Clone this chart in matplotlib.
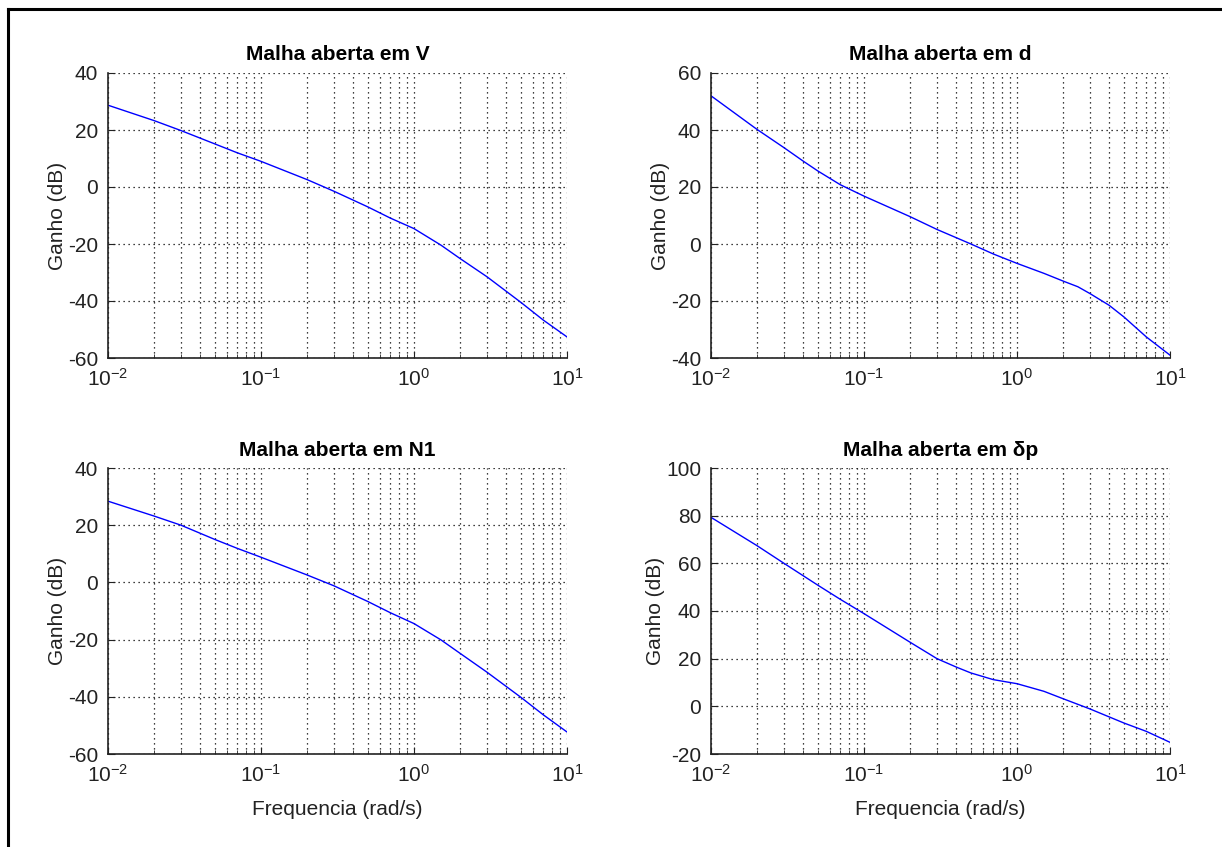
import numpy as np
import matplotlib.pyplot as plt
from matplotlib.lines import Line2D
from matplotlib.ticker import LogLocator, NullFormatter, FixedLocator

plt.rcParams['font.family'] = ['Liberation Sans', 'DejaVu Sans']
plt.rcParams['mathtext.fontset'] = 'custom'
plt.rcParams['mathtext.rm'] = 'Liberation Sans'
plt.rcParams['mathtext.it'] = 'Liberation Sans'
plt.rcParams['mathtext.default'] = 'regular'
plt.rcParams['axes.unicode_minus'] = False

# frequencias (rad/s)
freq = [0.01, 0.02, 0.03, 0.05, 0.07, 0.1, 0.2, 0.3, 0.5, 0.7,
        1.0, 1.5, 2.0, 3.0, 5.0, 7.0, 10.0]

ganho_V = [28.7, 23.3, 19.8, 15.1, 12.0, 9.0, 2.6, -1.5, -7.0, -10.9,
           -14.6, -20.4, -25.1, -31.5, -40.5, -46.7, -52.6]
ganho_N1 = [28.4, 23.2, 20.0, 15.0, 11.9, 8.8, 2.6, -1.2, -6.7, -10.6,
            -14.4, -20.1, -24.8, -31.4, -40.2, -46.3, -52.3]

freq_d = [0.01, 0.02, 0.03, 0.04, 0.05, 0.07, 0.1, 0.2, 0.3, 0.5, 0.7,
          1.0, 1.5, 2.0, 2.5, 3.0, 4.0, 5.0, 7.0, 10.0]
ganho_d = [52.0, 40.2, 33.8, 29.1, 25.6, 20.8, 16.8, 9.6, 5.1, 0.0, -3.5,
           -6.8, -10.3, -13.0, -15.0, -17.4, -21.5, -25.6, -32.6, -39.0]

freq_p = [0.01, 0.02, 0.03, 0.05, 0.07, 0.1, 0.2, 0.3, 0.4, 0.5, 0.7,
          1.0, 1.5, 2.0, 3.0, 5.0, 7.0, 10.0]
ganho_p = [79.3, 67.4, 60.0, 50.8, 44.9, 38.9, 26.9, 20.0, 16.5, 14.0, 11.2,
           9.5, 6.3, 3.2, -1.1, -7.0, -10.5, -15.1]

titulos = ['Malha aberta em V', 'Malha aberta em d',
           'Malha aberta em N1', 'Malha aberta em \u03b4p']
ylims = [(-60, 40), (-40, 60), (-60, 40), (-20, 100)]
xticks = [0.01, 0.1, 1, 10]
xticklabels = [r'$10^{-2}$', r'$10^{-1}$', r'$10^{0}$', r'$10^{1}$']

W, H = 1222, 847
fig = plt.figure(figsize=(W / 100, H / 100), dpi=100)

# posicoes em pixels: (esquerda, topo, direita, base)
caixas = [(108, 73, 567, 358), (711, 73, 1170, 358),
          (108, 468, 567, 754), (711, 468, 1170, 754)]
dados = [(freq, ganho_V), (freq_d, ganho_d), (freq, ganho_N1), (freq_p, ganho_p)]

for i in range(4):
    l, t, r, b = caixas[i]
    ax = fig.add_axes([l / W, 1 - b / H, (r - l) / W, (b - t) / H])
    x, y = dados[i]
    ax.semilogx(x, y, color='#0000ff', lw=1.0)
    ax.set_xlim(0.01, 10)
    ax.set_ylim(*ylims[i])
    ax.set_yticks(np.arange(ylims[i][0], ylims[i][1] + 1, 20))
    ax.xaxis.set_major_locator(FixedLocator(xticks))
    ax.set_xticklabels(xticklabels)
    ax.xaxis.set_minor_locator(LogLocator(base=10, subs=np.arange(2, 10), numticks=20))
    ax.xaxis.set_minor_formatter(NullFormatter())
    ax.grid(True, which='major', axis='both', linestyle=(0, (1, 3)), color='k', lw=0.9)
    ax.grid(True, which='minor', axis='x', linestyle=(0, (1, 3)), color='k', lw=0.9)
    ax.spines['top'].set_visible(False)
    ax.spines['right'].set_visible(False)
    for s in ['left', 'bottom']:
        ax.spines[s].set_linewidth(1.2)
        ax.spines[s].set_color('#222222')
    ax.tick_params(which='major', direction='in', length=5, labelsize=15,
                   labelcolor='#222222', color='#222222', pad=7)
    ax.tick_params(which='minor', direction='in', length=3, color='#222222')
    ax.set_title(titulos[i], fontsize=15, fontweight='bold', pad=9)
    ax.set_ylabel('Ganho (dB)', fontsize=15, color='#222222', labelpad=1)
    if i >= 2:
        ax.set_xlabel('Frequencia (rad/s)', fontsize=15, color='#222222', labelpad=10)

# moldura (so topo e esquerda visiveis)
fig.add_artist(Line2D([8 / W, 1], [1 - 9 / H, 1 - 9 / H], color='k', lw=2.2,
                      transform=fig.transFigure))
fig.add_artist(Line2D([8 / W, 8 / W], [0, 1 - 9 / H], color='k', lw=2.2,
                      transform=fig.transFigure))

fig.savefig('out.png', dpi=100, facecolor='white')
